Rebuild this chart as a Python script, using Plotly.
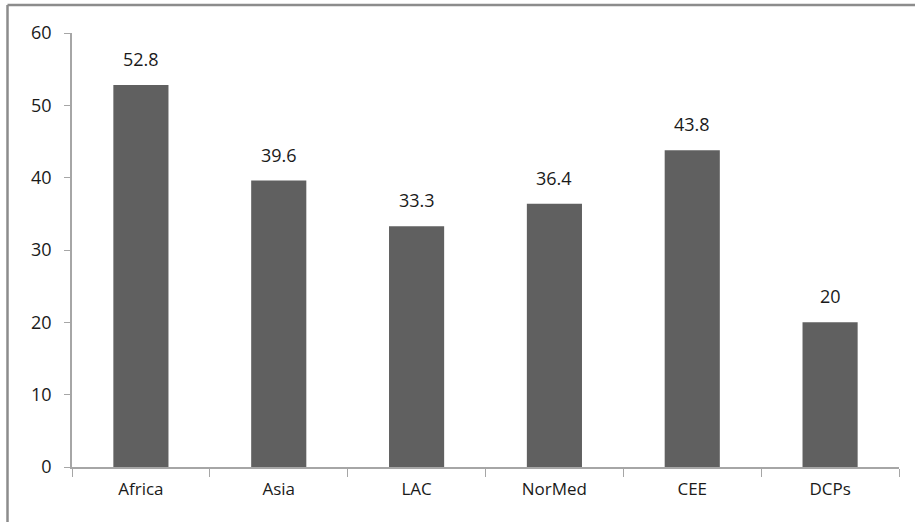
import plotly.graph_objects as go

categories = ["Africa", "Asia", "LAC", "NorMed", "CEE", "DCPs"]
values = [52.8, 39.6, 33.3, 36.4, 43.8, 20]
labels = ["52.8", "39.6", "33.3", "36.4", "43.8", "20"]

W, H = 915, 522
ml, mr, mt, mb = 72, 16, 33, 55
pw, ph = W - ml - mr, H - mt - mb
FONT = "Open Sans, sans-serif"

fig = go.Figure(go.Bar(
    x=categories, y=values,
    marker=dict(color="#606060", line=dict(width=0)),
    hoverinfo="x+y",
))

for c, v, t in zip(categories, values, labels):
    fig.add_annotation(x=c, y=v, text=t, showarrow=False, yanchor="bottom",
                       yshift=12, font=dict(size=18, color="#1a1a1a", family=FONT))

def px_x(x):
    return (x - ml) / pw

def px_y(y):
    return (H - mb - y) / ph

fig.update_layout(
    width=W, height=H,
    margin=dict(l=ml, r=mr, t=mt, b=mb),
    paper_bgcolor="white", plot_bgcolor="white",
    bargap=0.6, showlegend=False,
    font=dict(family=FONT, size=18, color="#1a1a1a"),
    xaxis=dict(showline=True, linecolor="#a6a6a6", linewidth=1.5,
               ticks="outside", ticklen=8, tickcolor="#a6a6a6",
               tickson="boundaries", showgrid=False, zeroline=False,
               tickfont=dict(size=17), ticklabelstandoff=6),
    yaxis=dict(range=[0, 60], dtick=10, showline=True, linecolor="#a6a6a6",
               linewidth=1.5, ticks="outside", ticklen=6, tickcolor="#a6a6a6",
               showgrid=False, zeroline=False, tickfont=dict(size=18),
               ticklabelstandoff=9),
    shapes=[
        dict(type="line", xref="paper", yref="paper",
             x0=px_x(7.5), x1=px_x(W + 5), y0=px_y(5), y1=px_y(5),
             line=dict(color="#8c8c8c", width=2.5)),
        dict(type="line", xref="paper", yref="paper",
             x0=px_x(7.5), x1=px_x(7.5), y0=px_y(5), y1=px_y(H + 5),
             line=dict(color="#8c8c8c", width=2.5)),
    ],
)

fig.write_html("out.html", config={"displayModeBar": False},
               post_script="document.body.style.margin='0px';document.body.style.overflow='hidden';")
